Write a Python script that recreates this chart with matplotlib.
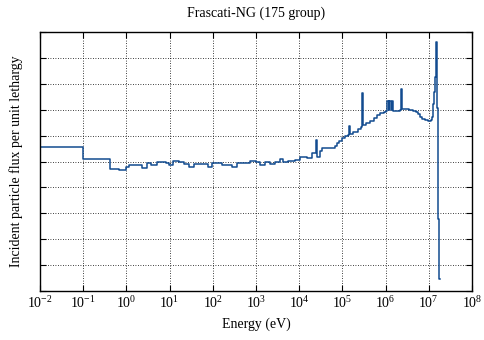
import numpy as np
import matplotlib
matplotlib.use("Agg")
import matplotlib.pyplot as plt

# Group lower edges (log10 of energy in eV) and flux per unit lethargy in each group
log_edges = [
    -2.00, -1.00, -0.38, -0.16, 0.00, 0.05, 0.36, 0.48, 0.58, 0.70,
    0.92, 0.98, 1.09, 1.21, 1.33, 1.45, 1.57, 1.90, 1.99, 2.21,
    2.44, 2.55, 2.86, 2.99, 3.09, 3.21, 3.32, 3.44, 3.56, 3.63,
    3.75, 3.90, 4.02, 4.17, 4.30, 4.38, 4.41, 4.48, 4.53, 4.83,
    4.88, 4.93, 4.98, 5.05, 5.12, 5.15, 5.17, 5.25, 5.35, 5.42,
    5.45, 5.47, 5.55, 5.64, 5.72, 5.80, 5.88, 5.96, 6.02, 6.04,
    6.07, 6.09, 6.12, 6.14, 6.17, 6.33, 6.36, 6.38, 6.55, 6.64,
    6.70, 6.76, 6.80, 6.84, 6.92, 6.99, 7.04, 7.07, 7.10, 7.12,
    7.14, 7.16, 7.18, 7.20, 7.22, 7.24,
]
flux = [
    5.56, 5.10, 4.72, 4.67, 4.80, 4.85, 4.75, 4.93, 4.88, 4.97,
    4.93, 4.88, 5.01, 4.97, 4.90, 4.78, 4.90, 4.80, 4.95, 4.88,
    4.80, 4.95, 5.03, 5.00, 4.88, 5.00, 4.90, 4.97, 5.11, 4.97,
    5.03, 5.06, 5.19, 5.13, 5.32, 5.83, 5.19, 5.42, 5.51, 5.60,
    5.70, 5.80, 5.90, 5.98, 6.02, 6.37, 6.05, 6.15, 6.25, 6.34,
    7.66, 6.40, 6.48, 6.58, 6.68, 6.78, 6.87, 6.93, 6.96, 7.35,
    6.98, 7.35, 6.98, 7.35, 6.96, 6.98, 7.78, 7.02, 7.00, 6.95,
    6.90, 6.83, 6.72, 6.65, 6.60, 6.58, 6.62, 6.70, 7.22, 7.70,
    8.27, 9.63, 8.92, 7.05, 2.78, 0.45,
]
log_last_edge = 7.26

x_ticks = [1e-2, 1e-1, 1e0, 1e1, 1e2, 1e3, 1e4, 1e5, 1e6, 1e7, 1e8]
x_ticklabels = [r"$10^{-2}$", r"$10^{-1}$", r"$10^{0}$", r"$10^{1}$", r"$10^{2}$",
                r"$10^{3}$", r"$10^{4}$", r"$10^{5}$", r"$10^{6}$", r"$10^{7}$",
                r"$10^{8}$"]
y_ticks = np.arange(0, 11, 1)

plt.rcParams["font.family"] = ["Liberation Serif", "DejaVu Serif"]
plt.rcParams["mathtext.fontset"] = "custom"
plt.rcParams["mathtext.rm"] = "Liberation Serif"
plt.rcParams["mathtext.it"] = "Liberation Serif:italic"

fig = plt.figure(figsize=(4.84, 3.40), dpi=100)
ax = fig.add_axes([40 / 484, 49 / 340, 432 / 484, 259 / 340])

energy = 10.0 ** np.array(log_edges + [log_last_edge])
values = np.array(flux + [flux[-1]])
ax.plot(energy, values, drawstyle="steps-post", color="#124b90", lw=1.1)

ax.set_xscale("log")
ax.set_xlim(1e-2, 1e8)
ax.set_ylim(0, 10)
ax.set_xticks(x_ticks)
ax.set_xticklabels(x_ticklabels, fontsize=10)
ax.xaxis.set_minor_locator(matplotlib.ticker.NullLocator())
ax.set_yticks(y_ticks)
ax.set_yticklabels([])
ax.tick_params(direction="in", length=4, width=0.8, top=True, right=True, pad=3)

ax.grid(True, which="major", color="black", linestyle=(0, (1, 2)), linewidth=0.6)
for s in ax.spines.values():
    s.set_linewidth(1.0)

ax.set_title("Frascati-NG (175 group)", fontsize=10, pad=11)
ax.set_xlabel("Energy (eV)", fontsize=10, labelpad=5)
ax.set_ylabel("Incident particle flux per unit lethargy", fontsize=10, labelpad=9)

fig.savefig("out.png", dpi=100)
